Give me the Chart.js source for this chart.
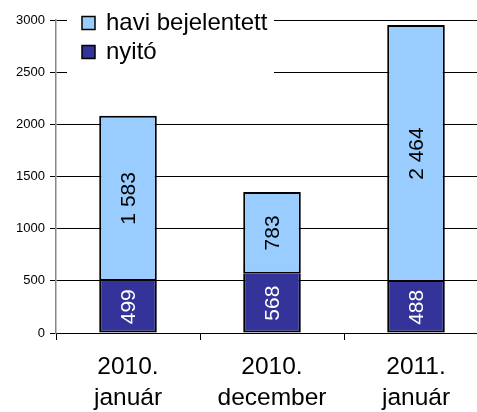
<!DOCTYPE html>
<html>
<head>
<meta charset="utf-8">
<script src="https://cdn.jsdelivr.net/npm/chart.js@4/dist/chart.umd.min.js"></script>
<style>
  html, body { margin: 0; padding: 0; background: #fff; overflow: hidden; }
  #wrap { width: 477px; height: 412px; overflow: hidden; }
</style>
</head>
<body>
<div id="wrap"><canvas id="chart" width="500" height="412"></canvas></div>
<script>
const categories = [['2010.', 'január'], ['2010.', 'december'], ['2011.', 'január']];
const nyito = [499, 568, 488];
const haviBejelentett = [1583, 783, 2464];
const yTicks = [0, 500, 1000, 1500, 2000, 2500, 3000];

const FONT = '"Liberation Sans", Arial, sans-serif';

// 1583 -> "1 583"
function fmt(v) {
  return String(v).replace(/\B(?=(\d{3})+(?!\d))/g, ' ');
}

// Rotated value labels centred in each segment
const barLabels = {
  id: 'barLabels',
  afterDatasetsDraw(chart) {
    const ctx = chart.ctx;
    chart.data.datasets.forEach((ds, i) => {
      const meta = chart.getDatasetMeta(i);
      meta.data.forEach((bar, j) => {
        ctx.save();
        ctx.translate(bar.x, (bar.y + bar.base) / 2);
        ctx.rotate(-Math.PI / 2);
        ctx.font = '21px ' + FONT;
        ctx.fillStyle = ds.labelColor;
        ctx.textAlign = 'center';
        ctx.textBaseline = 'middle';
        ctx.fillText(fmt(ds.data[j]), 0, 1);
        ctx.restore();
      });
    });
  }
};

// Legend box inside the plot, white background over the gridlines
const boxLegend = {
  id: 'boxLegend',
  afterDraw(chart) {
    const ctx = chart.ctx;
    ctx.save();
    ctx.fillStyle = '#fff';
    ctx.fillRect(67, 2, 207, 78);
    const items = chart.data.datasets.slice().reverse();
    items.forEach((ds, i) => {
      const y = 23 + i * 29;
      ctx.fillStyle = ds.backgroundColor;
      ctx.fillRect(82, y - 6.5, 13, 13);
      ctx.strokeStyle = '#000';
      ctx.lineWidth = 1.5;
      ctx.strokeRect(82, y - 6.5, 13, 13);
      ctx.fillStyle = '#000';
      ctx.font = '24px ' + FONT;
      ctx.textAlign = 'left';
      ctx.textBaseline = 'middle';
      ctx.fillText(ds.label, 106, y);
    });
    ctx.restore();
  }
};

function initChart() {
  const ctx = document.getElementById('chart').getContext('2d');
  new Chart(ctx, {
    type: 'bar',
    data: {
      labels: categories,
      datasets: [
        { label: 'nyitó', data: nyito, backgroundColor: '#333399', labelColor: '#fff',
          borderColor: '#000', borderWidth: 2, borderSkipped: 'top' },
        { label: 'havi bejelentett', data: haviBejelentett, backgroundColor: '#99CCFF', labelColor: '#000',
          borderColor: '#000', borderWidth: 2, borderSkipped: false }
      ]
    },
    options: {
      responsive: false,
      animation: false,
      layout: { padding: { top: 20, right: 12, bottom: 0, left: 0 } },
      categoryPercentage: 1,
      barPercentage: 0.4,
      plugins: {
        legend: { display: false },
        tooltip: { enabled: false }
      },
      scales: {
        x: {
          stacked: true,
          offset: true,
          grid: { offset: true, drawOnChartArea: false, color: '#000', tickLength: 7 },
          border: { color: '#000', width: 1 },
          ticks: { color: '#000', font: { family: FONT, size: 24.5, lineHeight: 1.25 }, padding: 12, maxRotation: 0 },
          afterFit: s => { s.height = 79; }
        },
        y: {
          stacked: true,
          min: 0,
          max: 3000,
          afterBuildTicks: s => { s.ticks = yTicks.map(v => ({ value: v })); },
          grid: { color: '#000', lineWidth: 1, tickLength: 6 },
          border: { color: '#888', width: 1.5 },
          ticks: { color: '#000', font: { family: FONT, size: 13 }, padding: 5, callback: v => String(v) },
          afterFit: s => { s.width = 56; }
        }
      }
    },
    plugins: [barLabels, boxLegend]
  });
}

document.addEventListener('DOMContentLoaded', initChart);
</script>
</body>
</html>
